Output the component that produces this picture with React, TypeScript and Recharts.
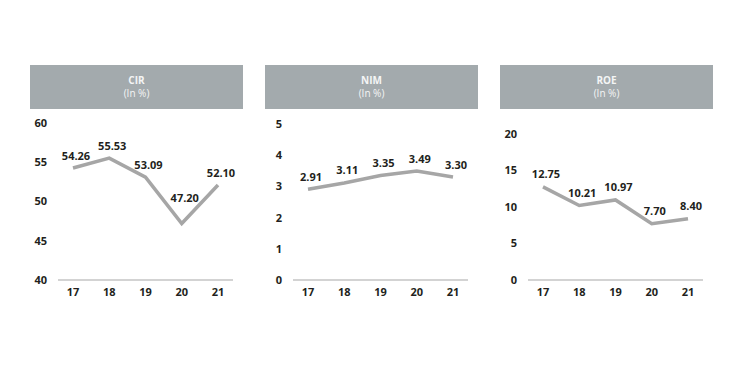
import React from "react";
import { LineChart, Line, XAxis, YAxis, LabelList } from "recharts";

const years = ["17", "18", "19", "20", "21"];
const cirValues = [54.26, 55.53, 53.09, 47.2, 52.1];
const nimValues = [2.91, 3.11, 3.35, 3.49, 3.3];
const roeValues = [12.75, 10.21, 10.97, 7.7, 8.4];

const cirTicks = [40, 45, 50, 55, 60];
const nimTicks = [0, 1, 2, 3, 4, 5];
const roeTicks = [0, 5, 10, 15, 20];

const FONT = "'Open Sans', 'DejaVu Sans', sans-serif";
const TEXT = "#231f20";
const LINE = "#a6a6a6";
const HEADER = "#a3aaad";

type PanelProps = {
  title: string;
  values: number[];
  ticks: number[];
  left: number;
  plotTop: number;
  liftIndex?: number;
};

const makeLabel = (liftIndex?: number) => (props: any) => {
  const { x, y, value, index } = props;
  const lift = index === liftIndex ? 26 : 13;
  return (
    <text
      x={x + 3}
      y={y - lift}
      textAnchor="middle"
      dominantBaseline="central"
      fontFamily={FONT}
      fontWeight={700}
      fontSize={11}
      fill={TEXT}
    >
      {Number(value).toFixed(2)}
    </text>
  );
};

function Panel({ title, values, ticks, left, plotTop, liftIndex }: PanelProps) {
  const data = years.map((y, i) => ({ year: y, v: values[i] }));
  return (
    <>
      <div
        style={{
          position: "absolute",
          left: left + 10,
          top: 65,
          width: 213,
          height: 44,
          background: HEADER,
          color: "#f4f5f5",
          fontFamily: FONT,
          fontSize: 10,
          textAlign: "center",
          lineHeight: "13px",
          paddingTop: 9,
          boxSizing: "border-box",
        }}
      >
        <div style={{ fontWeight: 700, height: 13 }}>{title}</div>
        <div style={{ height: 13 }}>(In %)</div>
      </div>
      <div style={{ position: "absolute", left, top: 110 }}>
        <LineChart
          width={230}
          height={200}
          data={data}
          margin={{ top: plotTop - 110, right: 17, bottom: 0, left: 0 }}
        >
          <XAxis
            dataKey="year"
            axisLine={{ stroke: "#d3d3d3", strokeWidth: 2 }}
            tickLine={false}
            tickSize={0}
            tickMargin={8}
            padding={{ left: 15, right: 15 }}
            height={30}
            tick={{ fontFamily: FONT, fontWeight: 700, fontSize: 11, fill: TEXT }}
          />
          <YAxis
            domain={[ticks[0], ticks[ticks.length - 1]]}
            ticks={ticks}
            axisLine={false}
            tickLine={false}
            tickSize={0}
            tickMargin={11}
            width={38}
            interval={0}
            tick={{ fontFamily: FONT, fontWeight: 700, fontSize: 11, fill: TEXT }}
          />
          <Line
            dataKey="v"
            stroke={LINE}
            strokeWidth={3.5}
            dot={false}
            isAnimationActive={false}
            strokeLinejoin="miter"
          >
            <LabelList dataKey="v" content={makeLabel(liftIndex)} />
          </Line>
        </LineChart>
      </div>
    </>
  );
}

export default function App() {
  return (
    <div
      style={{
        position: "absolute",
        left: 0,
        top: 0,
        width: 744,
        height: 367,
        background: "#ffffff",
        overflow: "hidden",
      }}
    >
      <Panel title="CIR" values={cirValues} ticks={cirTicks} left={20} plotTop={123} liftIndex={3} />
      <Panel title="NIM" values={nimValues} ticks={nimTicks} left={255} plotTop={124} />
      <Panel title="ROE" values={roeValues} ticks={roeTicks} left={490} plotTop={134} />
    </div>
  );
}
